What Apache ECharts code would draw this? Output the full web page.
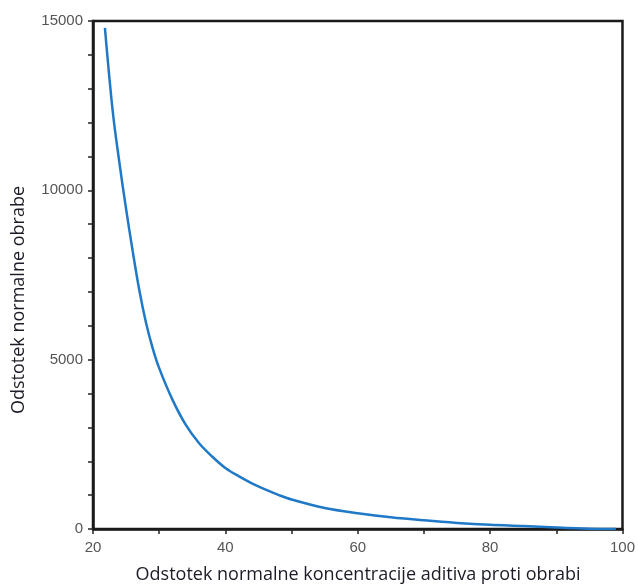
<!DOCTYPE html>
<html>
<head>
<meta charset="utf-8">
<script src="https://cdn.jsdelivr.net/npm/echarts@6/dist/echarts.min.js"></script>
<style>
html,body{margin:0;padding:0;background:#fff;}
#c{width:638px;height:585px;}
</style>
</head>
<body>
<div id="c"></div>
<script>
// Data
const xValues = [21.8, 23, 24, 25, 26, 27, 28, 29, 30, 32, 34, 36, 38, 40, 42, 44, 46, 48, 50, 55, 60, 65, 70, 75, 80, 85, 90, 95, 99];
const yValues = [14800, 12300, 10800, 9450, 8200, 7050, 6100, 5350, 4750, 3820, 3080, 2540, 2140, 1800, 1560, 1350, 1170, 1010, 870, 620, 465, 345, 255, 180, 125, 90, 45, 10, 0];
const xTitle = 'Odstotek normalne koncentracije aditiva proti obrabi';
const yTitle = 'Odstotek normalne obrabe';

const seriesData = xValues.map((x, i) => [x, yValues[i]]);

const chart = echarts.init(document.getElementById('c'), null, {renderer: 'canvas'});
const labelFont = '"Liberation Sans", Arial, sans-serif';
const titleFont = '18px "Open Sans", sans-serif';
chart.setOption({
  animation: false,
  backgroundColor: '#fff',
  grid: {left: 93, right: 14, top: 21, bottom: 56, show: true, borderColor: '#1a1a1a', borderWidth: 2.5, backgroundColor: 'transparent'},
  xAxis: {
    type: 'value', min: 20, max: 100, interval: 10,
    axisLine: {show: true, lineStyle: {color: '#1a1a1a', width: 2.5}},
    axisTick: {show: true, length: 5, lineStyle: {color: '#222', width: 1.5}},
    axisLabel: {color: '#555', fontSize: 15, fontFamily: labelFont, margin: 11,
      formatter: v => (v % 20 === 0 ? String(v) : '')},
    splitLine: {show: false}
  },
  yAxis: {
    type: 'value', min: 0, max: 15000, interval: 1000,
    axisLine: {show: true, lineStyle: {color: '#1a1a1a', width: 2.5}},
    axisTick: {show: true, length: 5, lineStyle: {color: '#222', width: 1.5}},
    axisLabel: {color: '#555', fontSize: 15, fontFamily: labelFont, margin: 10,
      formatter: v => (v % 5000 === 0 ? String(v) : '')},
    splitLine: {show: false}
  },
  graphic: [
    {type: 'text', position: [358, 575], style: {text: xTitle, fill: '#1c1c28', font: titleFont, textAlign: 'center', textVerticalAlign: 'middle'}},
    {type: 'text', rotation: Math.PI / 2, position: [19, 300], style: {text: yTitle, fill: '#1c1c28', font: titleFont, textAlign: 'center', textVerticalAlign: 'middle'}}
  ],
  series: [{
    type: 'line', data: seriesData, smooth: 0.35, showSymbol: false,
    lineStyle: {color: '#2079c7', width: 2.5}
  }]
});
</script>
</body>
</html>
